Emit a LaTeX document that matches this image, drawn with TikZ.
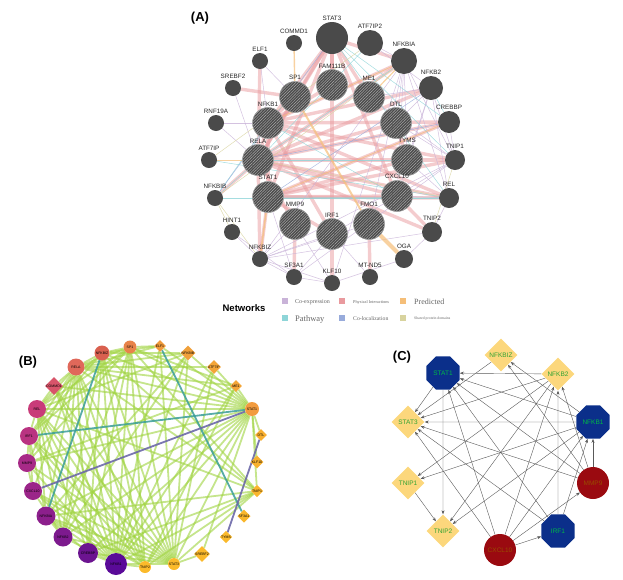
\documentclass[tikz,border=0pt]{standalone}
\usepackage{fontspec}
\setmainfont{Liberation Sans}
\newfontfamily\legfont{Liberation Serif}
\usetikzlibrary{shapes.geometric,patterns.meta,backgrounds,arrows.meta}

% colours of panel A
\definecolor{agrey}{HTML}{4A4A4A}
\definecolor{lcoexp}{HTML}{C9B3D8}
\definecolor{lphys}{HTML}{E99A9E}
\definecolor{lpred}{HTML}{F5BE78}
\definecolor{lpath}{HTML}{8ED5D8}
\definecolor{lcoloc}{HTML}{98ABDB}
\definecolor{ldom}{HTML}{D8D39E}
% colours of panel B and C
\definecolor{bgreen}{HTML}{9FD33F}
\definecolor{bteal}{HTML}{3A9E98}
\definecolor{bpurple}{HTML}{6C68A8}
\definecolor{cnavy}{HTML}{0B2F8A}
\definecolor{cyellow}{HTML}{FCD77C}
\definecolor{cred}{HTML}{9A0A10}

\tikzset{
  anode/.style={circle,fill=agrey,inner sep=0pt},
  ahub/.style={circle,draw=gray!75,line width=0.6pt,preaction={fill=agrey},
    pattern={Lines[angle=45,distance=2pt,line width=0.45pt]},pattern color=gray!65,
    inner sep=0pt,minimum size=31pt},
  albl/.style={font=\fontsize{6.3}{7}\selectfont,text=black!85,inner sep=1pt},
  aedge/.style={line width=0.5pt,opacity=0.8},
  apink/.style={lphys,line width=3.4pt,opacity=0.5},
  legsq/.style={rectangle,inner sep=0pt,minimum size=6.5pt},
  legtxt/.style={anchor=west,inner sep=0pt,text=black!60},
  bcirc/.style={circle,inner sep=0pt,font=\fontsize{3.5}{4}\selectfont},
  bdiam/.style={diamond,aspect=1,inner sep=0pt,font=\fontsize{3.5}{4}\selectfont},
  bedge/.style={bgreen,line width=1.8pt,opacity=0.6},
  coct/.style={regular polygon,regular polygon sides=8,fill=cnavy,inner sep=0pt,
    minimum size=36pt,text=green!45!teal,font=\fontsize{6.5}{7}\selectfont},
  cdiam/.style={diamond,aspect=1,fill=cyellow,inner sep=0pt,minimum size=33pt,
    text=green!55!black!80,font=\fontsize{6.5}{7}\selectfont},
  ccirc/.style={circle,fill=cred,inner sep=0pt,minimum size=32pt,
    text=orange!60!black,font=\fontsize{6.5}{7}\selectfont},
  carrow/.style={-{Stealth[length=4pt,width=3pt]},black!65,line width=0.4pt},
  panel/.style={font=\bfseries\fontsize{13}{15}\selectfont}
}

\begin{document}
\begin{tikzpicture}[x=1pt,y=-1pt]
  \useasboundingbox (0,0) rectangle (623,579);

  % ---------------- (A) GeneMANIA network ----------------
  \node[panel] (labA) at (200,18) {(A)};
  % genes that are not in the query
  \foreach \n/\t/\x/\y/\d in {STAT3/STAT3/332/38/32, ATF7IP2/ATF7IP2/370/43/26,
      COMMD1/COMMD1/294/43/16, ELF1/ELF1/260/61/16, NFKBIA/NFKBIA/404/61/26,
      SREBF2/SREBF2/233/88/16, NFKB2/NFKB2/431/88/24, RNF19A/RNF19A/216/123/16,
      CREBBP/CREBBP/449/122/22, ATF7IP/ATF7IP/209/160/16, TNIP1/TNIP1/455/160/20,
      NFKBIB/NFKBIB/215/198/16, REL/REL/449/198/20, HINT1/HINT1/232/232/16,
      TNIP2/TNIP2/432/232/20, NFKBIZ/NFKBIZ/260/259/16, OGA/OGA/404/259/18,
      SF3A1/SF3A1/294/277/16, KLF10/KLF10/332/283/16, MTND5/MT-ND5/370/277/16}{
    \node[anode,minimum size=\d pt,label={[albl]above:\t}] (a\n) at (\x,\y) {};
  }
  % query genes (hatched)
  \foreach \n/\x/\y in {FAM111B/332/85, SP1/295/97, ME1/369/97, NFKB1/268/123,
      DTL/396/123, RELA/258/160, TYMS/407/160, STAT1/268/197, CXCL10/397/196,
      MMP9/295/224, IRF1/332/234, FMO1/369/224}{
    \node[ahub,label={[albl]above:\n}] (a\n) at (\x,\y) {};
  }

  \begin{scope}[on background layer]
    % physical interactions
    \foreach \u/\v in {NFKB1/RELA, NFKB1/STAT3, RELA/STAT3, SP1/STAT3, NFKB1/IRF1,
        STAT1/IRF1, STAT1/STAT3, RELA/REL, NFKB1/NFKBIA, RELA/NFKBIA, NFKB2/RELA,
        CXCL10/STAT1, SREBF2/SP1, IRF1/KLF10, FMO1/MTND5, SF3A1/MMP9, TNIP2/CXCL10,
        REL/NFKB1, NFKB1/CREBBP, RELA/CREBBP, STAT1/CREBBP, ELF1/RELA, STAT3/FAM111B,
        STAT3/NFKBIA, NFKB2/NFKB1, RELA/TNIP1, NFKB1/TNIP1, STAT3/CXCL10, RELA/NFKBIB,
        REL/STAT1, TYMS/DTL, RELA/CXCL10, NFKB1/STAT1, NFKBIZ/RELA, IRF1/STAT3,
        RELA/TNIP2, SP1/NFKB1, ME1/STAT3, TYMS/STAT1, DTL/RELA, NFKBIZ/STAT1,
        SP1/RELA, MMP9/RELA, FAM111B/NFKB1, TNIP1/STAT1}
      \draw[apink] (a\u) -- (a\v);
    % co-expression
    \foreach \u/\v in {NFKBIA/TNIP1, NFKBIA/REL, NFKB2/TNIP1, NFKB2/REL, NFKBIA/NFKBIZ,
        NFKBIZ/SF3A1, NFKBIZ/KLF10, HINT1/NFKBIZ, SF3A1/KLF10, KLF10/OGA, MMP9/KLF10,
        IRF1/NFKBIZ, CXCL10/IRF1, TNIP2/OGA, REL/TNIP2, TNIP1/CXCL10, NFKBIA/CXCL10,
        NFKB2/CXCL10, ATF7IP2/NFKBIA, ATF7IP2/NFKB2, ELF1/SP1, RNF19A/NFKB1,
        SF3A1/IRF1, MTND5/IRF1, FMO1/NFKBIZ, ME1/NFKB2, DTL/TNIP1, TYMS/REL,
        CXCL10/REL, NFKBIZ/MMP9, SF3A1/STAT1, NFKBIZ/TNIP2, NFKBIA/TYMS, NFKB2/DTL,
        KLF10/NFKBIA, SF3A1/TNIP1, NFKBIZ/TNIP1, HINT1/SF3A1, NFKBIA/FMO1, ME1/TNIP1,
        NFKBIA/DTL, NFKB2/TYMS, CREBBP/TNIP1, ELF1/NFKB1, SREBF2/RELA, RNF19A/RELA}
      \draw[aedge,lcoexp] (a\u) -- (a\v);
    % pathway
    \foreach \u/\v in {STAT3/CREBBP, RELA/NFKBIB, NFKB1/NFKBIB, STAT1/REL, ATF7IP2/RELA,
        STAT3/REL, CREBBP/NFKB2, NFKBIB/REL, RELA/TYMS, NFKB1/CXCL10, STAT3/TNIP1,
        NFKBIA/RELA, ATF7IP/REL}
      \draw[aedge,lpath] (a\u) -- (a\v);
    % co-localization and shared protein domains
    \foreach \u/\v in {NFKB2/STAT1, STAT3/NFKBIB, CREBBP/RELA}
      \draw[aedge,lcoloc] (a\u) -- (a\v);
    \foreach \u/\v in {REL/RELA, NFKBIA/NFKBIB, ATF7IP/ATF7IP2, TNIP1/TNIP2,
        HINT1/NFKBIB, NFKBIZ/NFKBIB}
      \draw[aedge,ldom] (a\u) -- (a\v);
    % predicted
    \foreach \u/\v/\w in {COMMD1/SP1/1.4, NFKBIZ/STAT1/1.6, FMO1/OGA/4, SP1/FMO1/2,
        ATF7IP/RELA/0.8, NFKBIA/NFKB1/0.8, ME1/NFKBIA/1.2, CREBBP/STAT1/0.8}
      \draw[lpred,line width=\w pt,opacity=0.7] (a\u) -- (a\v);
  \end{scope}

  % legend
  \node[font=\bfseries\fontsize{9.5}{11}\selectfont] (nethead) at (244,308) {Networks};
  \node[legsq,fill=lcoexp] (sq1) at (285,301) {};
  \node[legsq,fill=lphys] (sq2) at (342,301) {};
  \node[legsq,fill=lpred] (sq3) at (403,301) {};
  \node[legsq,fill=lpath] (sq4) at (285,318) {};
  \node[legsq,fill=lcoloc] (sq5) at (342,318) {};
  \node[legsq,fill=ldom] (sq6) at (403,318) {};
  \node[legtxt,font=\legfont\fontsize{6}{7}\selectfont] (lt1) at (295,302) {Co-expression};
  \node[legtxt,font=\legfont\fontsize{4.3}{5}\selectfont] (lt2) at (353,302) {Physical Interactions};
  \node[legtxt,font=\legfont\fontsize{8}{9}\selectfont] (lt3) at (414,302) {Predicted};
  \node[legtxt,font=\legfont\fontsize{8.5}{9}\selectfont] (lt4) at (295,319) {Pathway};
  \node[legtxt,font=\legfont\fontsize{5.7}{7}\selectfont] (lt5) at (353,319) {Co-localization};
  \node[legtxt,font=\legfont\fontsize{3.8}{5}\selectfont] (lt6) at (414,319) {Shared protein domains};

  % ---------------- (B) circular network ----------------
  \node[panel] (labB) at (28,362) {(B)};
  \foreach \n/\x/\y/\d/\h in {NFKBIZ/102/353/15/D9604F, RELA/76/367/17/E0685A,
      SP1/130/347/13/E8834A, STAT1/252/409/14/F29B3E, REL/37/409/18/C83C79,
      IRF1/29/436/18/B93381, MMP9/27/463/18/A72A87, CXCL10/33/491/18/9B2589,
      NFKBIA/46/516/19/8C1F8C, NFKB2/63/537/19/7D1A8E, CREBBP/88/553/20/6C1490,
      NFKB1/116/564/22/5A0A98, TNIP2/145/567/12/FBBA2A, STAT3/174/564/12/FBBA2A}{
    \definecolor{bcol}{HTML}{\h}
    \node[bcirc,fill=bcol,minimum size=\d pt] (b\n) at (\x,\y) {\n};
  }
  \foreach \n/\x/\y/\d/\h in {COMMD1/54/386/16/D8546A, ELF1/160/346/12/F09A3A,
      NFKBIB/188/353/12/F0A03A, ATF7IP/214/367/12/F4A537, ME1/236/386/12/F4A537,
      DTL/261/435/12/F8AE2E, KLF10/257/462/12/F8B12E, TNIP1/257/491/12/F9B52D,
      SF3A1/244/516/12/F9B72C, TYMS/226/537/12/FAB92B, SREBF2/202/554/12/FAB92B}{
    \definecolor{bcol}{HTML}{\h}
    \node[bdiam,fill=bcol,minimum size=\d pt] (b\n) at (\x,\y) {\n};
  }

  \begin{scope}[on background layer]
    \foreach \v in {SP1, ELF1, NFKBIB, ATF7IP, ME1, NFKBIZ, RELA, COMMD1, TNIP2, STAT3,
        NFKB1, CREBBP, NFKB2, NFKBIA, TNIP1, SREBF2, DTL, KLF10, REL, MMP9}
      \draw[bedge] (bSTAT1) -- (b\v);
    \foreach \v in {RELA, NFKBIZ, SP1, ELF1, NFKBIB, ATF7IP, NFKB1, REL, IRF1, MMP9,
        CXCL10, NFKBIA, TNIP1, SREBF2, COMMD1, CREBBP, NFKB2}
      \draw[bedge] (bSTAT3) -- (b\v);
    \foreach \v in {RELA, NFKBIZ, SP1, NFKB1, REL, IRF1, TNIP1, CXCL10, COMMD1,
        NFKBIA, ME1}
      \draw[bedge] (bTNIP2) -- (b\v);
    \foreach \v in {RELA, NFKBIZ, SP1, ELF1, NFKBIB, ATF7IP, ME1, REL, IRF1, CXCL10,
        TNIP1, COMMD1, MMP9, NFKBIA, NFKB2, CREBBP}
      \draw[bedge] (bNFKB1) -- (b\v);
    \foreach \v in {SP1, NFKBIZ, REL, IRF1, MMP9, CXCL10, NFKBIA, NFKB2, CREBBP, ELF1,
        NFKBIB, ATF7IP, ME1, TNIP1, COMMD1}
      \draw[bedge] (bRELA) -- (b\v);
    \foreach \u/\v in {SP1/NFKBIZ, SP1/ELF1, SP1/REL, SP1/IRF1, SP1/MMP9, SP1/NFKB2,
        SP1/CREBBP, SP1/TNIP1, SP1/ME1, REL/NFKBIA, REL/NFKB2, REL/CREBBP, REL/NFKBIZ,
        REL/IRF1, REL/TNIP1, REL/NFKBIB, NFKBIZ/NFKB2, NFKBIZ/CREBBP, NFKBIZ/IRF1,
        NFKBIZ/ELF1, NFKBIZ/TNIP1, NFKBIZ/NFKBIB, NFKBIA/NFKB2, NFKBIA/CREBBP,
        NFKBIA/IRF1, NFKBIA/TNIP1, NFKBIA/NFKBIB, CXCL10/IRF1, CXCL10/MMP9,
        CXCL10/NFKB2, CREBBP/TNIP1, NFKB2/NFKBIB, IRF1/MMP9, COMMD1/REL, MMP9/ME1}
      \draw[bedge] (b\u) -- (b\v);
    \foreach \u/\v in {ELF1/SF3A1, STAT1/IRF1, NFKBIZ/NFKBIA}
      \draw[bteal,line width=1.8pt,opacity=0.85] (b\u) -- (b\v);
    \foreach \u/\v in {STAT1/CXCL10, DTL/TYMS}
      \draw[bpurple,line width=1.8pt,opacity=0.9] (b\u) -- (b\v);
  \end{scope}

  % ---------------- (C) directed network ----------------
  \node[panel] (labC) at (402,357) {(C)};
  \node[coct] (cSTAT1) at (443,373) {STAT1};
  \node[cdiam] (cNFKBIZ) at (501,355) {NFKBIZ};
  \node[cdiam] (cNFKB2) at (558,374) {NFKB2};
  \node[cdiam] (cSTAT3) at (408,422) {STAT3};
  \node[coct] (cNFKB1) at (593,422) {NFKB1};
  \node[cdiam] (cTNIP1) at (408,483) {TNIP1};
  \node[ccirc] (cMMP9) at (593,483) {MMP9};
  \node[cdiam] (cTNIP2) at (443,531) {TNIP2};
  \node[coct] (cIRF1) at (558,531) {IRF1};
  \node[ccirc] (cCXCL10) at (500,550) {CXCL10};

  \begin{scope}[on background layer]
    \foreach \u/\v in {NFKB2/STAT1, NFKB1/STAT1, MMP9/STAT1, IRF1/STAT1, CXCL10/STAT1,
        STAT1/STAT3, NFKBIZ/STAT3, NFKB2/STAT3, NFKB1/STAT3, MMP9/STAT3, IRF1/STAT3,
        CXCL10/STAT3, NFKB1/NFKBIZ, MMP9/NFKBIZ, IRF1/NFKB2, MMP9/NFKB2, CXCL10/NFKB2,
        MMP9/NFKB1, IRF1/NFKB1, CXCL10/NFKB1, NFKB1/TNIP1, NFKB2/TNIP1, STAT1/TNIP2,
        TNIP1/TNIP2, NFKB2/TNIP2, NFKB1/TNIP2, CXCL10/MMP9, CXCL10/IRF1}
      \draw[carrow] (c\u) -- (c\v);
  \end{scope}
\end{tikzpicture}
\end{document}
